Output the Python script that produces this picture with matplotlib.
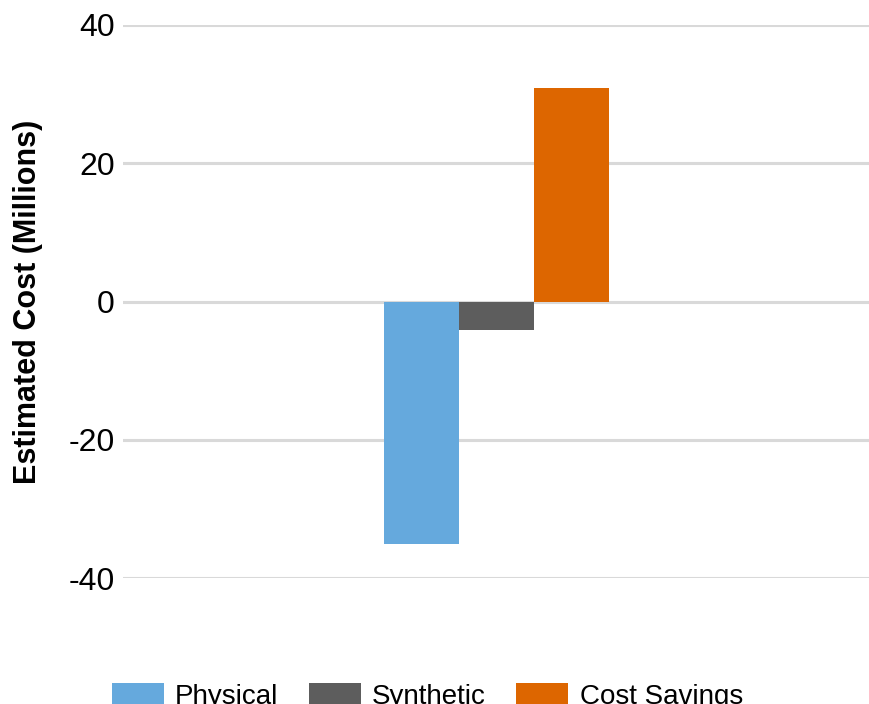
import matplotlib
matplotlib.use("Agg")
import matplotlib.pyplot as plt
from matplotlib.patches import Patch

plt.rcParams['font.family'] = ['Liberation Sans', 'DejaVu Sans']

categories = ["Physical", "Synthetic", "Cost Savings"]
values = [-35.1, -4.1, 30.9]
colors = ["#65A9DD", "#5D5D5D", "#DD6600"]
yticks = [-40, -20, 0, 20, 40]
ylabel = "Estimated Cost (Millions)"

fig = plt.figure(figsize=(8.7, 7.04), dpi=100)
W, H = 870, 704
ax = fig.add_axes([123 / W, 1 - 578 / H, (870 - 123) / W, (578 - 25) / H])

positions = [-0.1, 0.0, 0.1]
for pos, v, c in zip(positions, values, colors):
    ax.bar(pos, v, width=0.1, color=c, zorder=3)

ax.set_xlim(-0.5, 0.5)
ax.set_ylim(-40, 40)
ax.set_yticks(yticks)
ax.set_yticklabels([str(t) for t in yticks], fontsize=23)
ax.set_xticks([])
ax.grid(axis='y', color='#D9D9D9', linewidth=2.2, zorder=0)
ax.set_axisbelow(True)
for s in ax.spines.values():
    s.set_visible(False)
ax.tick_params(axis='y', length=0, pad=6)
ax.set_ylabel(ylabel, fontsize=22, fontweight='bold')
ax.yaxis.set_label_coords(-(123 - 43) / (870 - 123), 0.5)

handles = [Patch(facecolor=c, edgecolor='none') for c in colors]
fig.legend(handles, categories, loc='upper left',
           bbox_to_anchor=(112 / W, 1 - 683 / H), ncol=3, frameon=False,
           fontsize=20, handlelength=1.87, handleheight=0.9,
           handletextpad=0.4, columnspacing=1.1, borderpad=0, borderaxespad=0)

fig.savefig("out.png", dpi=100)
